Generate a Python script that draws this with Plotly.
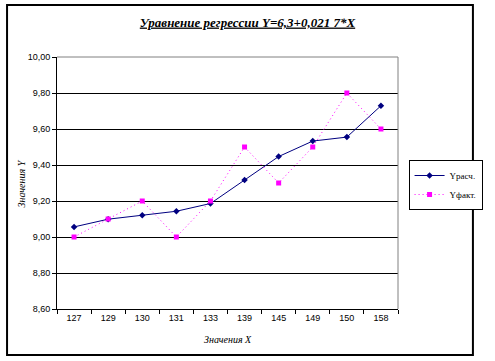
import plotly.graph_objects as go

x_labels = ["127", "129", "130", "131", "133", "139", "145", "149", "150", "158"]
y_calc = [9.056, 9.099, 9.121, 9.143, 9.186, 9.316, 9.447, 9.533, 9.555, 9.729]
y_fact = [9.00, 9.10, 9.20, 9.00, 9.20, 9.50, 9.30, 9.50, 9.80, 9.60]

W, H = 495, 361
L, R, T, B = 57, 83, 57, 52
pw, ph = W - L - R, H - T - B

def px(x):
    return (x - L) / pw

def py(y):
    return (H - B - y) / ph

fig = go.Figure()
fig.add_trace(go.Scatter(
    x=x_labels, y=y_calc, name="Yрасч.", mode="lines+markers",
    line=dict(color="#000080", width=1),
    marker=dict(symbol="diamond", size=5, color="#000080"),
))
fig.add_trace(go.Scatter(
    x=x_labels, y=y_fact, name="Yфакт.", mode="lines+markers",
    line=dict(color="#FF00FF", width=1, dash="1px,3px"),
    marker=dict(symbol="square", size=5, color="#FF00FF"),
))

serif = "Liberation Serif, Times New Roman, serif"
sans = "Liberation Sans, Arial, sans-serif"

fig.update_layout(
    width=W, height=H,
    margin=dict(l=L, r=R, t=T, b=B, pad=0),
    paper_bgcolor="white", plot_bgcolor="white",
    separators=", ",
    showlegend=True,
    title=dict(
        text="<b><i><u>Уравнение регрессии Y=6,3+0,021 7*X</u></i></b>",
        x=0.5, xanchor="center", y=1 - 22 / H, yanchor="middle",
        font=dict(family=serif, size=13, color="black"),
    ),
    legend=dict(
        x=px(423), y=py(160), xanchor="left", yanchor="top",
        bordercolor="black", borderwidth=1, bgcolor="white",
        font=dict(family=serif, size=9, color="black"),
        itemwidth=30, tracegroupgap=0,
    ),
    xaxis=dict(
        type="category", tickson="boundaries",
        ticks="outside", ticklen=4, tickcolor="black", tickwidth=1,
        showline=True, linecolor="black", linewidth=1,
        showgrid=False, zeroline=False,
        tickfont=dict(family=sans, size=9, color="black"),
        range=[-0.5, 9.5],
    ),
    yaxis=dict(
        range=[8.6, 10.0], dtick=0.2, tickformat=".2f",
        ticks="outside", ticklen=4, tickcolor="black", tickwidth=1,
        showline=True, linecolor="black", linewidth=1,
        showgrid=True, gridcolor="black", gridwidth=1, zeroline=False,
        tickfont=dict(family=sans, size=9, color="black"),
    ),
    annotations=[
        dict(text="<i>Значения X</i>", xref="paper", yref="paper",
             x=0.5, y=py(339), xanchor="center", yanchor="middle", showarrow=False,
             font=dict(family=serif, size=10, color="black")),
        dict(text="<i>Значения Y</i>", xref="paper", yref="paper",
             x=px(20), y=0.5, xanchor="center", yanchor="middle", showarrow=False,
             textangle=-90, font=dict(family=serif, size=10, color="black")),
    ],
    shapes=[
        dict(type="line", xref="paper", yref="paper", x0=0, x1=1, y0=1, y1=1,
             line=dict(color="#808080", width=1), layer="above"),
        dict(type="line", xref="paper", yref="paper", x0=1, x1=1, y0=0, y1=1,
             line=dict(color="#808080", width=1), layer="above"),
        dict(type="rect", xref="paper", yref="paper",
             x0=px(5), x1=px(490), y0=py(355), y1=py(5),
             line=dict(color="black", width=2), layer="above"),
    ],
)

fig.write_html("out.html", config={"displayModeBar": False},
               post_script="document.body.style.margin='0';")
